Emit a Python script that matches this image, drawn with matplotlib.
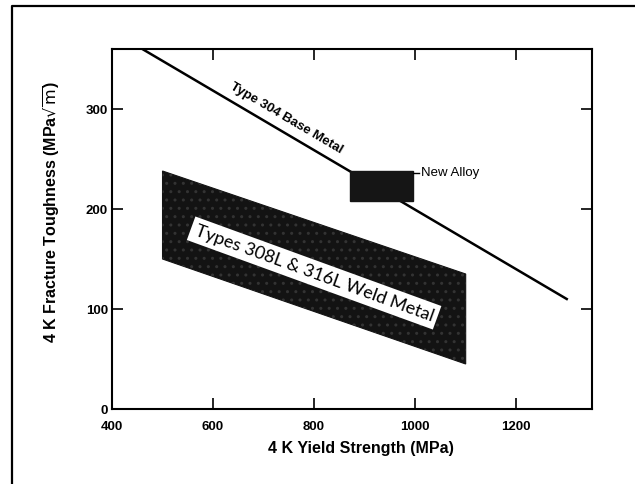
import matplotlib
matplotlib.use("Agg")
import matplotlib.pyplot as plt
from matplotlib.patches import Polygon, Rectangle
from matplotlib.lines import Line2D

plt.rcParams['font.family'] = ['Liberation Sans', 'DejaVu Sans']
plt.rcParams['mathtext.fontset'] = 'dejavusans'

# Type 304 base metal trend line (yield strength MPa, toughness MPa*sqrt(m))
base_x = [460, 1300]
base_y = [360, 110]

# Types 308L & 316L weld metal band (corners)
weld_x = [500, 1100, 1100, 500]
weld_y = [238, 135, 45, 150]

# New alloy box
alloy_x = [872, 995]
alloy_y = [208, 238]

xticks = [400, 600, 800, 1000, 1200]
yticks = [0, 100, 200, 300]

fig = plt.figure(figsize=(6.35, 4.85), dpi=100)
ax = fig.add_axes([112/635, 75/485, 480/635, 360/485])

# outer frame of the scanned page
fig.add_artist(Line2D([12/635, 12/635, 1.0], [0.0, 1 - 7/485, 1 - 7/485],
                      transform=fig.transFigure, color='black', lw=1.6))

ax.plot(base_x, base_y, color='black', lw=1.8, zorder=2)

weld = Polygon(list(zip(weld_x, weld_y)), closed=True, facecolor='#131313',
               edgecolor='#131313', lw=0.8, zorder=3)
ax.add_patch(weld)
weld_tex = Polygon(list(zip(weld_x, weld_y)), closed=True, facecolor='none',
                   edgecolor='#333333', lw=0, hatch='..', zorder=3.1)
ax.add_patch(weld_tex)

alloy = Rectangle((alloy_x[0], alloy_y[0]), alloy_x[1] - alloy_x[0],
                  alloy_y[1] - alloy_y[0], facecolor='#151515',
                  edgecolor='#151515', zorder=4)
ax.add_patch(alloy)

ax.plot([alloy_x[1], alloy_x[1] + 12], [alloy_y[1] - 2, alloy_y[1] - 2],
        color='black', lw=1.0, zorder=4)
ax.text(alloy_x[1] + 16, alloy_y[1] - 1, 'New Alloy', fontsize=9.5,
        ha='left', va='center', zorder=5)

ax.text(745, 292, 'Type 304 Base Metal', fontsize=9.5, weight='bold',
        rotation=-30.5, rotation_mode='anchor', ha='center', va='center',
        zorder=5)

ax.text(800, 136, 'Types 308L & 316L Weld Metal', family=['Lato', 'DejaVu Sans'],
        fontsize=13, rotation=-20, rotation_mode='anchor', ha='center',
        va='center', zorder=6,
        bbox=dict(boxstyle='square,pad=0.25', facecolor='white', edgecolor='none'))

ax.set_xlim(400, 1350)
ax.set_ylim(0, 360)
ax.set_xticks(xticks)
ax.set_yticks(yticks)
ax.tick_params(direction='in', length=8, width=1.2, top=True, right=True,
               labelsize=9.5)
ax.tick_params(axis='x', pad=8)
ax.tick_params(axis='y', pad=3)
for lbl in ax.get_xticklabels() + ax.get_yticklabels():
    lbl.set_fontweight('bold')
for s in ax.spines.values():
    s.set_linewidth(1.5)

ax.set_xlabel('4 K Yield Strength (MPa)', fontsize=11.5, weight='bold')
ax.xaxis.set_label_coords(0.519, -0.085)
ax.set_ylabel(r'4 K Fracture Toughness (MPa$\sqrt{\mathrm{m}}$)', fontsize=11.5,
              weight='bold')
ax.yaxis.set_label_coords(-0.105, 0.55)

fig.savefig('out.png', dpi=100)
